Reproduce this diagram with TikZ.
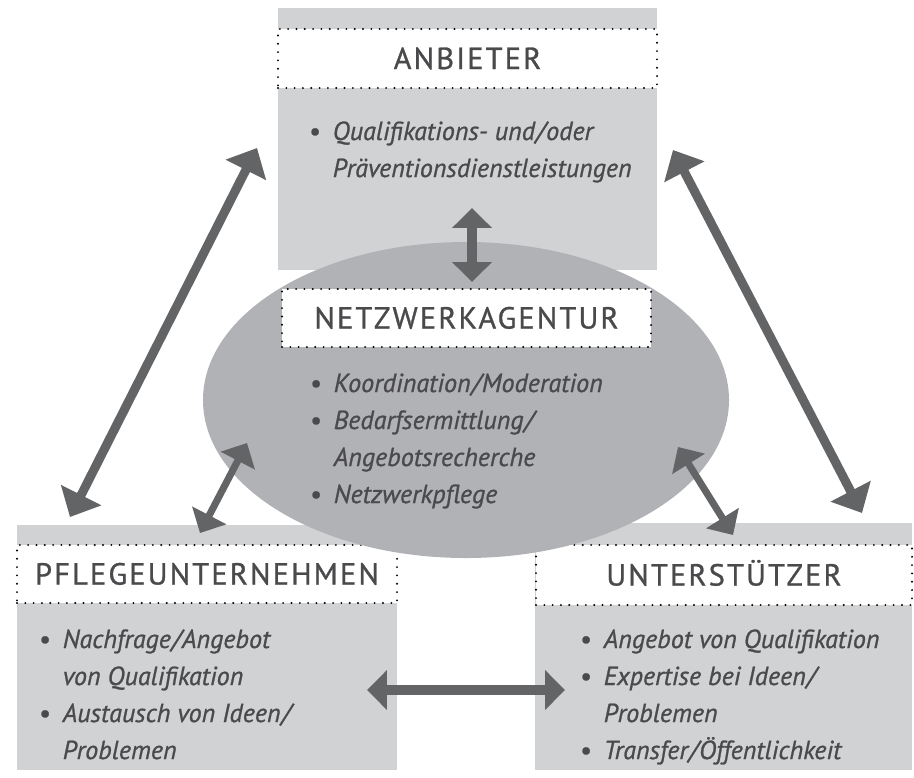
\documentclass[tikz,border=0pt]{standalone}
\usepackage{fontspec}
\setmainfont{PT Sans}
\newfontfamily\titlefont[LetterSpace=7, FakeBold=0.9]{PT Sans}
\newfontfamily\itemfont[FakeBold=0.9]{PT Sans}
\usetikzlibrary{arrows.meta,positioning,shapes.geometric}
\definecolor{nwlight}{HTML}{D1D2D4}
\definecolor{nwmid}{HTML}{B1B2B5}
\definecolor{nwdark}{HTML}{636466}
\definecolor{nwtext}{HTML}{4A4A4C}
\tikzset{
  panel/.style={fill=nwlight, inner sep=0pt},
  titlebox/.style={fill=white, draw=black, line width=1.8pt, dash pattern=on 0pt off 7.1pt,
    line cap=round, inner sep=0pt, text=nwtext, text height=18pt, text depth=0pt,
    font=\titlefont\fontsize{26}{30}\selectfont},
  items/.style={font=\itemfont\itshape\fontsize{22.3}{31.6}\selectfont, text=nwtext,
    anchor=base west, inner sep=0pt, align=left},
  arr/.style={{Triangle[length=21pt,width=37.5pt]}-{Triangle[length=21pt,width=37.5pt]},
    line width=7.7pt, nwdark},
  arrs/.style={{Triangle[length=17pt,width=32pt]}-{Triangle[length=17pt,width=32pt]},
    line width=6pt, nwdark},
  arrm/.style={{Triangle[length=17pt,width=33pt]}-{Triangle[length=17pt,width=33pt]},
    line width=8.5pt, nwdark},
}
\newcommand{\itm}{{\upshape\textbullet}}
\newcommand{\slsh}{\kern1pt/\kern1pt}
\begin{document}
\begin{tikzpicture}[x=0.03cm, y=-0.03cm]
  \useasboundingbox (0,0) rectangle (914,778);
  % grey panels
  \node[panel, minimum width=11.37cm, minimum height=7.86cm] (anb) at (467.5,139) {};
  \node[panel, minimum width=11.4cm, minimum height=7.35cm] (pfl) at (207,647.5) {};
  \node[panel, minimum width=11.31cm, minimum height=7.41cm] (unt) at (723.5,646.5) {};
  \node[titlebox, minimum width=11.37cm, minimum height=1.77cm] (anbT) at (467.5,58.5) {ANBIETER};
  \node[titlebox, minimum width=11.4cm, minimum height=1.74cm] (pflT) at (207,574) {PFLEGEUNTERNEHMEN};
  \node[titlebox, minimum width=11.28cm, minimum height=1.8cm] (untT) at (724,575) {UNTERSTÜTZER};
  % agency in the middle
  \node[ellipse, fill=nwmid, inner sep=0pt, minimum width=15.78cm, minimum height=9.48cm] (netz) at (466,400) {};
  \node[titlebox, minimum width=11.07cm, minimum height=1.74cm] (netzT) at (466.5,318) {NETZWERKAGENTUR};

  \node[items] (anbL) at (309,140) {\begin{tabular}[t]{@{}l@{\hspace{10pt}}l@{}}
    \itm & Qualifikations- und\slsh oder\\ & Präventionsdienstleistungen\end{tabular}};
  \node[items] (netzL) at (310,392) {\begin{tabular}[t]{@{}l@{\hspace{10pt}}l@{}}
    \itm & Koordination\slsh Moderation\\ \itm & Bedarfsermittlung\slsh\\
    & Angebotsrecherche\\ \itm & Netzwerkpflege\end{tabular}};
  \node[items] (pflL) at (39,648) {\begin{tabular}[t]{@{}l@{\hspace{10pt}}l@{}}
    \itm & Nachfrage\slsh Angebot\\ & von Qualifikation\\
    \itm & Austausch von Ideen\slsh\\ & Problemen\end{tabular}};
  \node[items] (untL) at (580,648) {\begin{tabular}[t]{@{}l@{\hspace{10pt}}l@{}}
    \itm & Angebot von Qualifikation\\ \itm & Expertise bei Ideen\slsh\\
    & Problemen\\ \itm & Transfer\slsh Öffentlichkeit\end{tabular}};

  % arrow ends
  \coordinate (vTop) at (472,208);  \coordinate (vBot) at (472,282);
  \coordinate (lTop) at (257,148);  \coordinate (lBot) at (70,517);
  \coordinate (rTop) at (673,150);  \coordinate (rBot) at (862,513);
  \coordinate (slTop) at (247,443); \coordinate (slBot) at (200,533);
  \coordinate (srTop) at (678,447); \coordinate (srBot) at (733,535);
  \coordinate (hL) at (367,690);    \coordinate (hR) at (565,690);
  \foreach \a/\b/\s in {vTop/vBot/arrm, lTop/lBot/arr, rTop/rBot/arr,
      slTop/slBot/arrs, srTop/srBot/arrs, hL/hR/arrm}
    \draw[\s] (\a) -- (\b);
\end{tikzpicture}
\end{document}
